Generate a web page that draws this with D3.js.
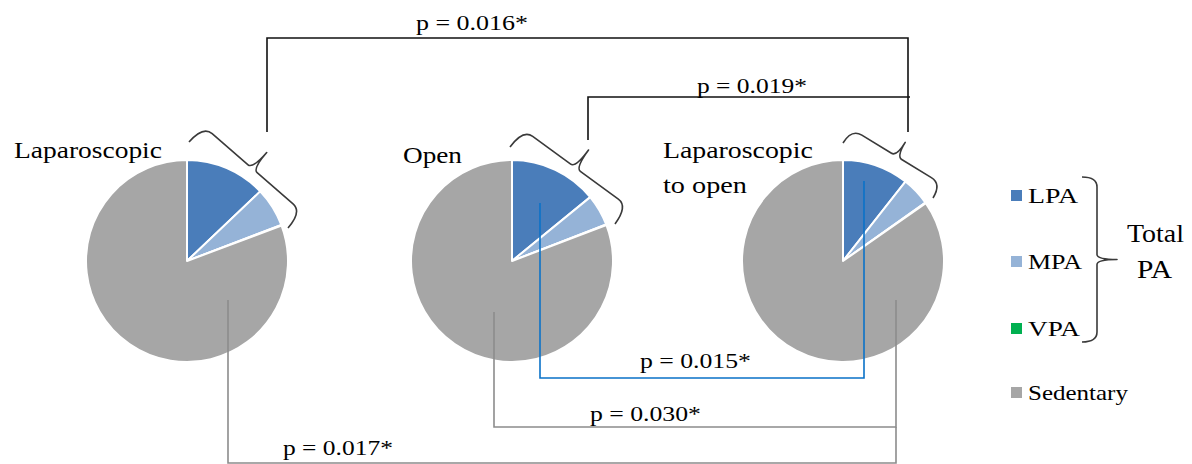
<!DOCTYPE html>
<html>
<head>
<meta charset="utf-8">
<script src="https://cdn.jsdelivr.net/npm/d3@7"></script>
<style>
  html, body { margin: 0; padding: 0; background: #fff; }
  svg { display: block; }
</style>
</head>
<body>
<svg id="chart" width="1192" height="464"></svg>
<script>
// Share of wear time (%) in each activity intensity, by surgical approach
const groups = ["Laparoscopic", "Open", "Laparoscopic to open"];
const activities = ["LPA", "MPA", "VPA", "Sedentary"];
const lpa = [12.9, 14.1, 10.6];
const mpa = [6.3, 5.0, 4.6];
const vpa = [0.1, 0.1, 0.1];
const sedentary = [80.7, 80.8, 84.7];
const activityColors = ["#4a7dba", "#95b3d7", "#00b050", "#a6a6a6"];

// Pairwise comparisons of total PA (top) and of LPA / sedentary time (bottom)
const pLabels = ["p = 0.016*", "p = 0.019*", "p = 0.015*", "p = 0.030*", "p = 0.017*"];

// Layout
const FONT = "Liberation Serif";
const pieX = [187, 512, 843];
const pieY = 261;
const radius = 101;

const svg = d3.select("#chart");
const color = d3.scaleOrdinal(activities, activityColors);

const pie = d3.pie().sort(null).value(d => d.value);
const arc = d3.arc().innerRadius(0).outerRadius(radius);

// Text set in a serif face, stretched horizontally to a given width
function addText(sel, t, x, y, size, width) {
  const el = sel.append("text")
    .style("font-family", FONT)
    .style("font-size", size + "px")
    .attr("fill", "#000")
    .text(t);
  const natural = el.node().getComputedTextLength() || width;
  el.attr("transform", `translate(${x},${y}) scale(${width / natural},1)`);
  return el;
}

// Pies
groups.forEach((g, i) => {
  const values = [lpa[i], mpa[i], vpa[i], sedentary[i]]
    .map((v, k) => ({ key: activities[k], value: v }));
  const gp = svg.append("g").attr("transform", `translate(${pieX[i]},${pieY})`);
  gp.selectAll("path")
    .data(pie(values))
    .join("path")
    .attr("d", arc)
    .attr("fill", d => color(d.data.key))
    .attr("stroke", "#fff")
    .attr("stroke-width", 2)
    .attr("stroke-linejoin", "round");
});

// Curly brace along a chord of length L, tip pointing to local -y
function bracePath(L, w, h, r1, r2) {
  const m = L / 2;
  return `M0,0 Q0,${-h} ${r1},${-h} L${m - r2},${-h} Q${m},${-h} ${m},${-w} ` +
         `Q${m},${-h} ${m + r2},${-h} L${L - r1},${-h} Q${L},${-h} ${L},0`;
}
function drawBrace(p1, p2, w, h, r1, r2) {
  const dx = p2[0] - p1[0], dy = p2[1] - p1[1];
  const L = Math.hypot(dx, dy);
  const ang = Math.atan2(dy, dx) * 180 / Math.PI;
  svg.append("path")
    .attr("d", bracePath(L, w, h, r1, r2))
    .attr("transform", `translate(${p1[0]},${p1[1]}) rotate(${ang})`)
    .attr("fill", "none")
    .attr("stroke", "#3a3a3a")
    .attr("stroke-width", 1.6)
    .attr("stroke-linejoin", "round");
}

// Braces grouping LPA + MPA + VPA slices of each pie
const braces = [
  { p1: [pieX[0] + 2, 142], p2: [pieX[0] + 101, 228], w: 43 },
  { p1: [pieX[1] - 2, 147], p2: [pieX[1] + 103, 224], w: 44 },
  { p1: [pieX[2], 143], p2: [pieX[2] + 90, 198], w: 33 }
];
braces.forEach(b => drawBrace(b.p1, b.p2, b.w, b.w * 0.5, 12, 6));

// Comparison connectors
const line = d3.line();
const connectors = [
  { pts: [[pieX[0] + 80, 132], [pieX[0] + 80, 38], [pieX[2] + 65, 38], [pieX[2] + 65, 132]], stroke: "#111" },
  { pts: [[pieX[1] + 76, 140], [pieX[1] + 76, 97], [pieX[2] + 67, 97]], stroke: "#111" },
  { pts: [[pieX[1] + 28, 203], [pieX[1] + 28, 378], [pieX[2] + 21, 378], [pieX[2] + 21, 181]], stroke: "#0a72c8" },
  { pts: [[pieX[1] - 18, 312], [pieX[1] - 18, 427], [pieX[2] + 53, 427], [pieX[2] + 53, 300]], stroke: "#8c8c8c" },
  { pts: [[pieX[0] + 41, 300], [pieX[0] + 41, 463], [pieX[2] + 53, 463], [pieX[2] + 53, 427]], stroke: "#8c8c8c" }
];
connectors.forEach(c => {
  svg.append("path")
    .attr("d", line(c.pts))
    .attr("fill", "none")
    .attr("stroke", c.stroke)
    .attr("stroke-width", 1.6);
});

// p-value labels
const pPos = [
  { x: 416, y: 30, w: 112 },
  { x: 697, y: 93, w: 110 },
  { x: 640, y: 368, w: 111 },
  { x: 590, y: 421, w: 111 },
  { x: 283, y: 455, w: 110 }
];
pLabels.forEach((t, i) => addText(svg, t, pPos[i].x, pPos[i].y, 22, pPos[i].w));

// Pie titles
const titleLines = [["Laparoscopic"], ["Open"], ["Laparoscopic", "to open"]];
const titlePos = [
  { x: 14, y: 158, w: [148] },
  { x: 403, y: 163, w: [59] },
  { x: 663, y: 158, w: [150, 84] }
];
titleLines.forEach((lines, i) => {
  lines.forEach((t, k) =>
    addText(svg, t, titlePos[i].x, titlePos[i].y + k * 35, 23, titlePos[i].w[k]));
});

// Legend
const legendY = [203, 269, 336, 400];
const legendW = [50, 54, 52, 100];
const legend = svg.append("g");
activities.forEach((a, i) => {
  legend.append("rect")
    .attr("x", 1011).attr("y", legendY[i] - 13)
    .attr("width", 11).attr("height", 11)
    .attr("fill", color(a));
  addText(legend, a, 1028, legendY[i], 21, legendW[i]);
});
drawBrace([1082, 177], [1082, 342], 35, 15, 10, 5);
addText(legend, "Total", 1127, 242, 25, 57);
addText(legend, "PA", 1137, 278, 25, 35);
</script>
</body>
</html>
